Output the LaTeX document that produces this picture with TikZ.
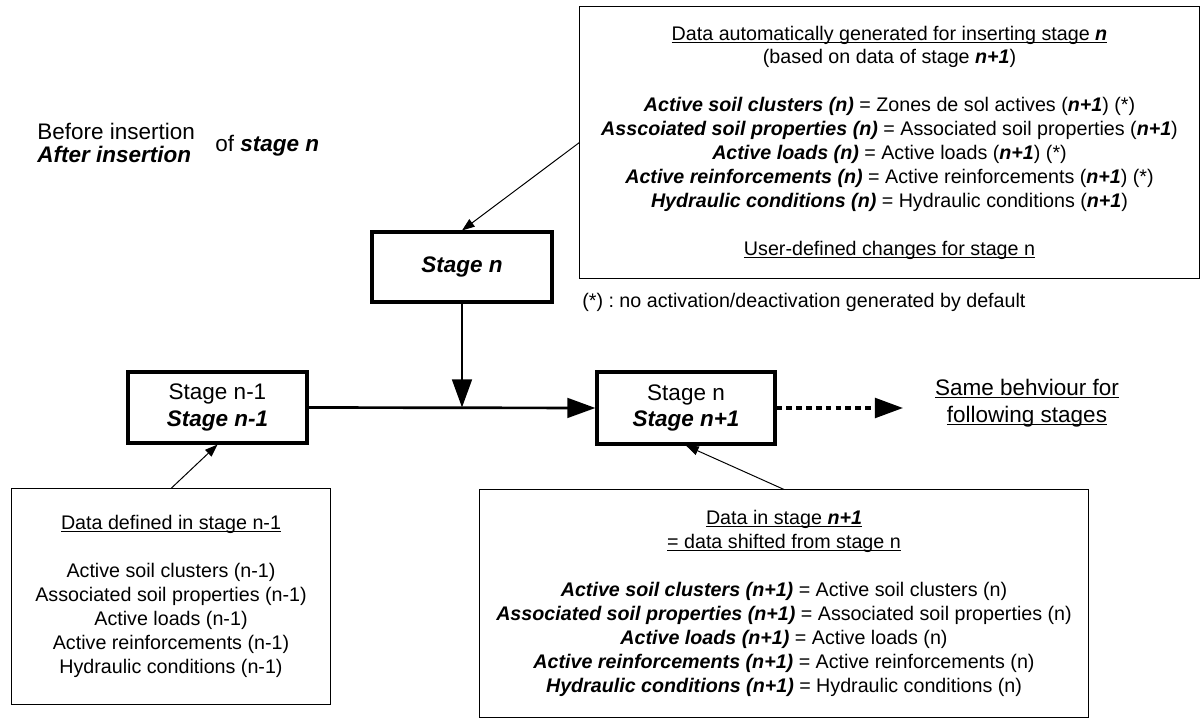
\documentclass[tikz,border=0pt]{standalone}
\usepackage{fontspec}
\setmainfont{Liberation Sans}
\usetikzlibrary{arrows.meta}
\frenchspacing
\newcommand{\bfit}[1]{\textbf{\textit{#1}}}
\newcommand{\uln}[1]{\leavevmode\setbox0\hbox{#1}\rlap{\rule[-1.7pt]{\wd0}{0.6pt}}\box0}
\tikzset{
  stagebox/.style={draw, line width=2.2pt, align=center, inner sep=0pt, font=\fontsize{16pt}{19pt}\selectfont},
  databox/.style={draw, line width=0.7pt, align=center, inner sep=0pt, font=\fontsize{14pt}{17pt}\selectfont},
  mainflow/.style={line width=1.9pt, -{Triangle[length=20pt,width=14pt]}},
  dashflow/.style={line width=2.4pt, dash pattern=on 4pt off 3pt, -{Triangle[length=20pt,width=14pt]}},
  pointer/.style={line width=0.7pt, -{Triangle[length=9pt,width=6.5pt]}},
}

\begin{document}
\begin{tikzpicture}[x=0.025cm, y=-0.025cm]
    \useasboundingbox (0,0) rectangle (1202,720);

    % legend on the left
    \node[anchor=west, align=left, inner sep=0pt, font=\fontsize{16pt}{17pt}\selectfont] (when) at (37,143)
      {Before insertion\\ \bfit{After insertion}};
    \node[anchor=west, inner sep=0pt, font=\fontsize{16pt}{19pt}\selectfont] (ofstage) at (215,146) {of \bfit{stage n}};

    % stages
    \node[stagebox, minimum width=4.5cm, minimum height=1.75cm] (ins) at (462,267) {\bfit{Stage n}};
    \node[stagebox, minimum width=4.475cm, minimum height=1.775cm] (prev) at (217.5,407.5) {Stage n-1\\ \bfit{Stage n-1}};
    \node[stagebox, minimum width=4.45cm, minimum height=1.8cm] (next) at (686,408) {Stage n\\ \bfit{Stage n+1}};
    \node[align=center, inner sep=0pt, font=\fontsize{16pt}{19pt}\selectfont] (follow) at (1027,403)
      {\uln{Same behviour for}\\ \uln{following stages}};

    % data boxes
    \node[databox, minimum width=15.475cm, minimum height=6.775cm] (autodata) at (889.5,142.5) {%
      \uln{Data automatically generated for inserting stage \bfit{n}}\\
      (based on data of stage \bfit{n+1})\\[17pt]
      \bfit{Active soil clusters (n)} = Zones de sol actives (\bfit{n+1}) (*)\\
      \bfit{Asscoiated soil properties (n)} = Associated soil properties (\bfit{n+1})\\
      \bfit{Active loads (n)} = Active loads (\bfit{n+1}) (*)\\
      \bfit{Active reinforcements (n)} = Active reinforcements (\bfit{n+1}) (*)\\
      \bfit{Hydraulic conditions (n)} = Hydraulic conditions (\bfit{n+1})\\[17pt]
      \uln{User-defined changes for stage n}};
    \node[anchor=west, inner sep=0pt, font=\fontsize{14pt}{17pt}\selectfont] (note) at (582,302)
      {(*) : no activation/deactivation generated by default};

    \node[databox, minimum width=7.95cm, minimum height=5.375cm] (prevdata) at (171,596.5) {%
      \uln{Data defined in stage n-1}\\[17pt]
      Active soil clusters (n-1)\\
      Associated soil properties (n-1)\\
      Active loads (n-1)\\
      Active reinforcements (n-1)\\
      Hydraulic conditions (n-1)};

    \node[databox, minimum width=15.2cm, minimum height=5.675cm] (nextdata) at (784,603.5) {%
      \uln{Data in stage \bfit{n+1}}\\
      \uln{= data shifted from stage n}\\[17pt]
      \bfit{Active soil clusters (n+1)} = Active soil clusters (n)\\
      \bfit{Associated soil properties (n+1)} = Associated soil properties (n)\\
      \bfit{Active loads (n+1)} = Active loads (n)\\
      \bfit{Active reinforcements (n+1)} = Active reinforcements (n)\\
      \bfit{Hydraulic conditions (n+1)} = Hydraulic conditions (n)};

    % flow
    \coordinate (join) at (ins.south |- prev.east);
    \coordinate (dashend) at (903,408);
    \draw[mainflow] (prev.east) -- (next.west);
    \draw[mainflow] (ins.south) -- (join);
    \draw[dashflow] (next.east) -- (dashend);

    % data pointers
    \draw[pointer] (autodata.west) -- (ins.north);
    \draw[pointer] (prevdata.north) -- (prev.south);
    \draw[pointer] (nextdata.north) -- (next.south);
\end{tikzpicture}
\end{document}
